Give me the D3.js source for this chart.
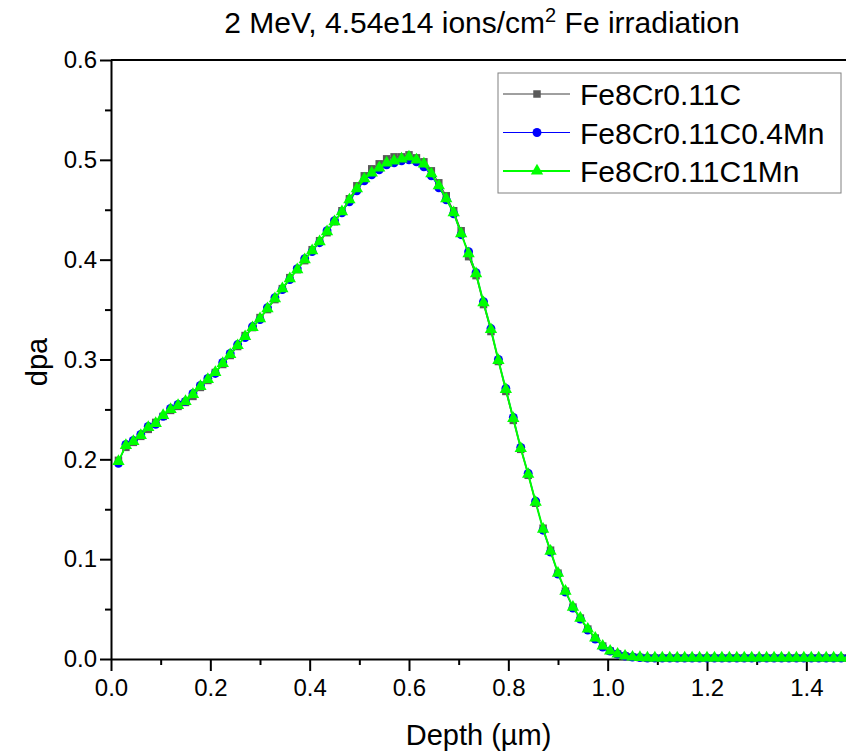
<!DOCTYPE html>
<meta charset="utf-8">
<style>
    body { margin: 0; background: #fff; }
    text { font-family: "Liberation Sans", Arial, sans-serif; fill: #000; }
    .axis path, .axis line { stroke: #000; stroke-width: 2px; }
</style>
<svg width="846" height="754"></svg>
<script src="https://d3js.org/d3.v7.min.js"></script>
<script>
    // depth in micrometres
    var depth = [0.015, 0.03, 0.045, 0.06, 0.075, 0.09, 0.105, 0.12, 0.135, 0.15,
        0.165, 0.18, 0.195, 0.21, 0.225, 0.24, 0.255, 0.27, 0.285, 0.3,
        0.315, 0.33, 0.345, 0.36, 0.375, 0.39, 0.405, 0.42, 0.435, 0.45,
        0.465, 0.48, 0.495, 0.51, 0.525, 0.54, 0.555, 0.57, 0.585, 0.6,
        0.615, 0.63, 0.645, 0.66, 0.675, 0.69, 0.705, 0.72, 0.735, 0.75,
        0.765, 0.78, 0.795, 0.81, 0.825, 0.84, 0.855, 0.87, 0.885, 0.9,
        0.915, 0.93, 0.945, 0.96, 0.975, 0.99, 1.005, 1.02, 1.035, 1.05,
        1.065, 1.08, 1.095, 1.11, 1.125, 1.14, 1.155, 1.17, 1.185, 1.2,
        1.215, 1.23, 1.245, 1.26, 1.275, 1.29, 1.305, 1.32, 1.335, 1.35,
        1.365, 1.38, 1.395, 1.41, 1.425, 1.44, 1.455, 1.47, 1.485, 1.5];

    var dpaFe8Cr = [0.199, 0.212, 0.217, 0.223, 0.230, 0.237, 0.243, 0.249, 0.253, 0.257,
        0.263, 0.272, 0.279, 0.287, 0.295, 0.304, 0.313, 0.324, 0.332, 0.342,
        0.350, 0.360, 0.371, 0.382, 0.390, 0.399, 0.410, 0.419, 0.427, 0.438,
        0.449, 0.461, 0.474, 0.484, 0.491, 0.496, 0.501, 0.503, 0.503, 0.505,
        0.502, 0.498, 0.489, 0.477, 0.464, 0.449, 0.429, 0.403, 0.384, 0.355,
        0.328, 0.298, 0.268, 0.239, 0.210, 0.184, 0.156, 0.131, 0.109, 0.086,
        0.068, 0.052, 0.041, 0.030, 0.021, 0.013, 0.008, 0.005, 0.003, 0.002,
        0.0015, 0.001, 0.001, 0.001, 0.001, 0.001, 0.001, 0.001, 0.001, 0.001,
        0.001, 0.001, 0.001, 0.001, 0.001, 0.001, 0.001, 0.001, 0.001, 0.001,
        0.001, 0.001, 0.001, 0.001, 0.001, 0.001, 0.001, 0.001, 0.001, 0.001];

    var dpa04Mn = [0.196, 0.215, 0.219, 0.225, 0.233, 0.235, 0.243, 0.251, 0.255, 0.258,
        0.266, 0.274, 0.281, 0.286, 0.297, 0.306, 0.315, 0.322, 0.333, 0.340,
        0.352, 0.362, 0.370, 0.380, 0.391, 0.401, 0.408, 0.417, 0.429, 0.439,
        0.447, 0.458, 0.469, 0.479, 0.485, 0.490, 0.495, 0.497, 0.499, 0.500,
        0.498, 0.493, 0.484, 0.472, 0.460, 0.446, 0.425, 0.408, 0.387, 0.358,
        0.331, 0.300, 0.271, 0.242, 0.212, 0.186, 0.158, 0.129, 0.107, 0.085,
        0.067, 0.051, 0.040, 0.029, 0.020, 0.012, 0.008, 0.005, 0.003, 0.002,
        0.0015, 0.001, 0.001, 0.001, 0.001, 0.001, 0.001, 0.001, 0.001, 0.001,
        0.001, 0.001, 0.001, 0.001, 0.001, 0.001, 0.001, 0.001, 0.001, 0.001,
        0.001, 0.001, 0.001, 0.001, 0.001, 0.001, 0.001, 0.001, 0.001, 0.001];

    var dpa1Mn = [0.198, 0.214, 0.218, 0.224, 0.232, 0.236, 0.244, 0.250, 0.254, 0.258,
        0.265, 0.273, 0.280, 0.287, 0.296, 0.305, 0.314, 0.323, 0.332, 0.341,
        0.351, 0.361, 0.371, 0.381, 0.390, 0.400, 0.409, 0.418, 0.428, 0.438,
        0.448, 0.460, 0.471, 0.481, 0.487, 0.492, 0.497, 0.499, 0.501, 0.503,
        0.500, 0.496, 0.486, 0.474, 0.461, 0.447, 0.426, 0.406, 0.386, 0.357,
        0.330, 0.299, 0.270, 0.241, 0.211, 0.185, 0.157, 0.130, 0.108, 0.086,
        0.068, 0.052, 0.041, 0.030, 0.021, 0.013, 0.008, 0.005, 0.003, 0.002,
        0.0015, 0.001, 0.001, 0.001, 0.001, 0.001, 0.001, 0.001, 0.001, 0.001,
        0.001, 0.001, 0.001, 0.001, 0.001, 0.001, 0.001, 0.001, 0.001, 0.001,
        0.001, 0.001, 0.001, 0.001, 0.001, 0.001, 0.001, 0.001, 0.001, 0.001];

    var seriesNames = ["Fe8Cr0.11C", "Fe8Cr0.11C0.4Mn", "Fe8Cr0.11C1Mn"];
    var seriesValues = [dpaFe8Cr, dpa04Mn, dpa1Mn];
    var xTicks = [0, 0.2, 0.4, 0.6, 0.8, 1.0, 1.2, 1.4];
    var xMinor = [0.1, 0.3, 0.5, 0.7, 0.9, 1.1, 1.3];
    var yTicks = [0, 0.1, 0.2, 0.3, 0.4, 0.5, 0.6];
    var yMinor = [0.05, 0.15, 0.25, 0.35, 0.45, 0.55];

    var styles = [
        { line: "#404040", width: 1, fill: "#595959", symbol: d3.symbolSquare, size: 56 },
        { line: "#0000ff", width: 1, fill: "#0000ff", symbol: d3.symbolCircle, size: 62 },
        { line: "#00ff00", width: 2, fill: "#00ff00", symbol: d3.symbolTriangle, size: 66 }
    ];

    var svg = d3.select("svg");
    var plotLeft = 111, plotRight = 856, plotTop = 60, plotBottom = 659;

    var x = d3.scaleLinear().domain([0, 1.5]).range([plotLeft, plotRight]);
    var y = d3.scaleLinear().domain([0, 0.6]).range([plotBottom, plotTop]);

    // minor ticks
    svg.append("g")
        .attr("class", "axis")
        .attr("transform", "translate(0," + plotBottom + ")")
        .call(d3.axisBottom(x).tickValues(xMinor).tickSize(6).tickFormat(""))
        .select(".domain").remove();
    svg.append("g")
        .attr("class", "axis")
        .attr("transform", "translate(" + plotLeft + ",0)")
        .call(d3.axisLeft(y).tickValues(yMinor).tickSize(6).tickFormat(""))
        .select(".domain").remove();

    var xAxis = svg.append("g")
        .attr("class", "axis")
        .attr("transform", "translate(0," + plotBottom + ")")
        .call(d3.axisBottom(x).tickValues(xTicks).tickSize(12).tickSizeOuter(0).tickFormat(d3.format(".1f")));
    xAxis.selectAll("text").attr("font-size", 24).attr("y", 20).attr("dy", "0.71em");

    var yAxis = svg.append("g")
        .attr("class", "axis")
        .attr("transform", "translate(" + plotLeft + ",0)")
        .call(d3.axisLeft(y).tickValues(yTicks).tickSize(11).tickSizeOuter(0).tickFormat(d3.format(".1f")));
    yAxis.selectAll("text").attr("font-size", 24).attr("x", -14);

    // top frame
    svg.append("line")
        .attr("x1", plotLeft).attr("x2", 846)
        .attr("y1", plotTop).attr("y2", plotTop)
        .attr("stroke", "#000").attr("stroke-width", 2);

    var plot = svg.append("g");

    seriesValues.forEach(function (vals, k) {
        var st = styles[k];
        var pts = depth.map(function (d, i) { return [d, vals[i]]; });
        var line = d3.line()
            .x(function (p) { return x(p[0]); })
            .y(function (p) { return y(p[1]); });
        plot.append("path")
            .datum(pts)
            .attr("fill", "none")
            .attr("stroke", st.line)
            .attr("stroke-width", st.width)
            .attr("d", line);
        plot.selectAll(".m" + k)
            .data(pts)
            .enter().append("path")
            .attr("class", "m" + k)
            .attr("transform", function (p) { return "translate(" + x(p[0]) + "," + y(p[1]) + ")"; })
            .attr("d", d3.symbol().type(st.symbol).size(st.size))
            .attr("fill", st.fill);
    });

    // title
    var title = svg.append("text")
        .attr("x", 482).attr("y", 33)
        .attr("text-anchor", "middle")
        .attr("font-size", 30);
    title.append("tspan").text("2 MeV, 4.54e14 ions/cm");
    title.append("tspan").attr("font-size", 20).attr("dy", -11).text("2");
    title.append("tspan").attr("dy", 11).text(" Fe irradiation");

    svg.append("text")
        .attr("x", (plotLeft + 846) / 2).attr("y", 745)
        .attr("text-anchor", "middle")
        .attr("font-size", 29)
        .text("Depth (\u00b5m)");

    svg.append("text")
        .attr("transform", "translate(47,362) rotate(-90)")
        .attr("text-anchor", "middle")
        .attr("font-size", 29)
        .text("dpa");

    // legend
    var legend = svg.append("g");
    legend.append("rect")
        .attr("x", 498).attr("y", 73)
        .attr("width", 343).attr("height", 120)
        .attr("fill", "#fff")
        .attr("stroke", "#808080")
        .attr("stroke-width", 1);
    seriesNames.forEach(function (name, k) {
        var st = styles[k];
        var ly = 94 + k * 38.5;
        legend.append("line")
            .attr("x1", 503).attr("x2", 570)
            .attr("y1", ly).attr("y2", ly)
            .attr("stroke", st.line).attr("stroke-width", st.width);
        legend.append("path")
            .attr("transform", "translate(537," + ly + ")")
            .attr("d", d3.symbol().type(st.symbol).size(st.size))
            .attr("fill", st.fill);
        legend.append("text")
            .attr("x", 580).attr("y", ly + 11)
            .attr("font-size", 30)
            .text(name);
    });
</script>
